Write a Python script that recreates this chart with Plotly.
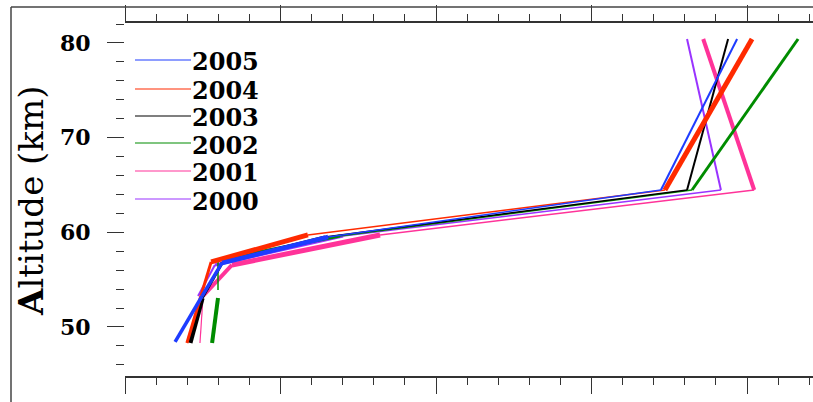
import plotly.graph_objects as go

# ---- data (x in unlabeled axis units, altitude in km) ----
years = ["2005", "2004", "2003", "2002", "2001", "2000"]

alt_2005 = [48.42, 53.27, 56.76, 59.51, 64.47, 80.42]
x_2005   = [1.61, 2.48, 3.12, 6.53, 17.23, 19.68]

alt_2004 = [48.31, 53.27, 56.87, 59.72, 64.47, 80.42]
x_2004   = [1.99, 2.44, 2.77, 5.88, 17.36, 20.16]

alt_2003 = [48.31, 53.06, 56.76, 59.51, 64.47, 80.42]
x_2003   = [2.09, 2.48, 3.12, 6.43, 18.07, 19.39]

alt_2002 = [48.31, 53.06, None, 53.91, 57.08, 59.61, 64.47, 80.42]
x_2002   = [2.80, 2.99, None, 2.99, 2.99, 6.91, 18.23, 21.64]

alt_2001 = [48.31, 53.27, 56.55, 59.72, 64.47, 80.42]
x_2001   = [2.41, 2.51, 3.44, 8.20, 20.23, 18.59]

alt_2000 = [53.27, 56.55, 59.61, 64.47, 80.42]
x_2000   = [2.35, 2.89, 7.01, 19.16, 18.07]

y_ticks = [50, 60, 70, 80]

# ---- styles ----
colors = {"2005": "#1e3cff", "2004": "#ff2a00", "2003": "#000000",
          "2002": "#008c00", "2001": "#ff3399", "2000": "#9933ff"}
seg_widths = {
    "2005": [3.5, 3.5, 4.5, 1.5, 2],
    "2004": [3, 3, 5, 1.5, 5],
    "2003": [5, 3, 3, 1.5, 2],
    "2002": [4, 1.5, 3, 1.5, 3],
    "2001": [1.2, 4, 5, 1.5, 4],
    "2000": [2, 3, 1.5, 2],
}
series = {"2005": (x_2005, alt_2005), "2004": (x_2004, alt_2004),
          "2003": (x_2003, alt_2003), "2002": (x_2002, alt_2002),
          "2001": (x_2001, alt_2001), "2000": (x_2000, alt_2000)}

fig = go.Figure()
draw_order = ["2000", "2001", "2002", "2003", "2004", "2005"]
for yr in draw_order:
    xs, ys = series[yr]
    widths = seg_widths[yr]
    k = 0
    for i in range(len(xs) - 1):
        if xs[i] is None or xs[i + 1] is None:
            continue
        fig.add_trace(go.Scatter(
            x=[xs[i], xs[i + 1]], y=[ys[i], ys[i + 1]], mode="lines",
            line=dict(color=colors[yr], width=widths[k]),
            showlegend=False, hoverinfo="skip"))
        k += 1

W, H = 813, 402
L, R, T, B = 125, 0, 23, 26
pw, ph = W - L - R, H - T - B

def px(xp):
    return (xp - L) / pw

def py(yp):
    return (H - B - yp) / ph

shapes = []
annotations = []
leg_y = [60, 89, 116, 143, 171, 199]
for yr, yy in zip(years, leg_y):
    shapes.append(dict(type="line", xref="paper", yref="paper",
                       x0=px(135), x1=px(191), y0=py(yy), y1=py(yy),
                       line=dict(color=colors[yr], width=1.2)))
    annotations.append(dict(text="<b>" + yr + "</b>", xref="paper", yref="paper",
                            x=px(190), y=py(yy + 2), xanchor="left", yanchor="middle",
                            showarrow=False,
                            font=dict(family="DejaVu Serif", size=24, color="black")))

# outer frame
shapes.append(dict(type="line", xref="paper", yref="paper",
                   x0=px(11), x1=px(813), y0=py(7), y1=py(7),
                   line=dict(color="#444", width=1.5)))
shapes.append(dict(type="line", xref="paper", yref="paper",
                   x0=px(11), x1=px(11), y0=py(7), y1=py(402),
                   line=dict(color="#444", width=1.5)))

annotations.append(dict(text="<b>A</b>ltitude (km)", xref="paper", yref="paper",
                        x=px(31), y=py(201), textangle=-90, showarrow=False,
                        xanchor="center", yanchor="middle",
                        font=dict(family="DejaVu Serif", size=34, color="black")))

fig.update_layout(
    width=W, height=H, margin=dict(l=L, r=R, t=T, b=B),
    paper_bgcolor="white", plot_bgcolor="white",
    shapes=shapes, annotations=annotations,
    xaxis=dict(range=[0, 22.12], showgrid=False, zeroline=False,
               showline=True, linecolor="#333", linewidth=1.5, mirror="ticks",
               ticks="outside", ticklen=16, tickwidth=1.3, tickcolor="#333",
               tick0=0, dtick=5, showticklabels=False,
               minor=dict(ticks="outside", ticklen=7, tickwidth=1.3,
                          tickcolor="#333", dtick=1, tick0=0)),
    yaxis=dict(range=[44.82, 82.11], showgrid=False, zeroline=False,
               showline=False, ticks="outside", ticklen=17, tickwidth=1.3,
               tickcolor="#333", tickvals=y_ticks,
               ticktext=[str(v) for v in y_ticks], ticklabelstandoff=12,
               tickfont=dict(family="DejaVu Serif", size=22, color="black",
                             weight="bold"),
               minor=dict(ticks="outside", ticklen=8, tickwidth=1.3,
                          tickcolor="#333", dtick=2, tick0=0)),
)

fig.write_html("out.html", config={"displayModeBar": False},
               post_script="document.body.style.margin='0';document.body.style.overflow='hidden';")
